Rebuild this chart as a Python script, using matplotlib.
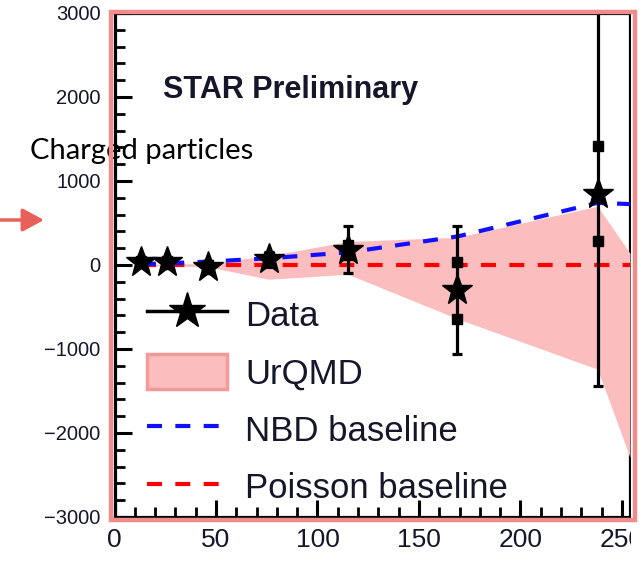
import numpy as np
import matplotlib
matplotlib.use("Agg")
import matplotlib.pyplot as plt
from matplotlib.lines import Line2D
from matplotlib.patches import Patch, Rectangle

plt.rcParams['font.family'] = ['Liberation Sans', 'DejaVu Sans']

# centrality points (x) and data values
cent = [13, 26, 46, 76, 115, 169, 238]
data_y = [32, 30, -25, 70, 180, -300, 850]
stat_err = [30, 40, 60, 90, 280, 760, 2290]
sys_err = [10, 15, 20, 30, 60, 340, 570]

# model curves, read at the same points plus the right edge
model_x = [13, 26, 46, 76, 115, 169, 238, 254]
urqmd_lo = [-10, -10, -20, -170, -110, -640, -1240, -2290]
urqmd_hi = [10, 10, 20, 110, 280, 330, 700, 140]
nbd_y = [10, 20, 40, 80, 150, 340, 740, 725]
poisson_y = [0, 0, 0, 0, 0, 0, 0, 0]

xticks = [0, 50, 100, 150, 200, 250]
yticks = [-3000, -2000, -1000, 0, 1000, 2000, 3000]

txt = '#16162a'
W, H = 641, 563
fig = plt.figure(figsize=(W / 100, H / 100), dpi=100)
ax = fig.add_axes([114.5 / W, (H - 517) / H, (630 - 114.5) / W, (517 - 13) / H])

ax.fill_between(model_x, urqmd_lo, urqmd_hi, color='#fbbdbe', lw=0, zorder=3)
ax.plot(model_x, poisson_y, color='#ff0000', lw=3, dashes=(3.6, 3.2), zorder=4)
ax.plot(model_x, nbd_y, color='#1010ff', lw=3, dashes=(3.6, 3.2), zorder=4)

ax.errorbar(cent, data_y, yerr=stat_err, fmt='none', ecolor='k',
            elinewidth=2.3, capsize=3.3, capthick=2.3, zorder=5)
sy = np.array(data_y)
se = np.array(sys_err)
ax.plot(cent, sy + se, 's', color='k', ms=7, zorder=5)
ax.plot(cent, sy - se, 's', color='k', ms=7, zorder=5)
ax.plot(cent, data_y, '*', color='k', ms=23, zorder=6)

ax.set_xlim(0, 254)
ax.set_ylim(-3000, 3000)
ax.set_xticks(xticks)
ax.set_yticks(yticks)
ax.set_xticks(np.arange(0, 255, 10), minor=True)
ax.set_yticks(np.arange(-3000, 3001, 200), minor=True)
ax.tick_params(which='both', direction='in', top=False, right=False, colors='k')
ax.tick_params(which='major', length=12, width=2.2)
ax.tick_params(which='minor', length=7, width=2)
ax.tick_params(axis='y', labelsize=14.5, pad=10, labelcolor=txt)
ax.tick_params(axis='x', labelsize=19, pad=8, labelcolor=txt)
for s in ax.spines.values():
    s.set_linewidth(2.3)

ax.text(0.094, 0.831, 'STAR Preliminary', transform=ax.transAxes,
        fontsize=22, fontweight='bold', color=txt, va='baseline', zorder=7)

handles = [
    Line2D([], [], color='k', lw=2.5, marker='*', ms=27),
    Patch(facecolor='#fbbdbe', edgecolor='#f59a9a', lw=2.5),
    Line2D([], [], color='#1010ff', lw=3, dashes=(3.6, 3.2)),
    Line2D([], [], color='#ff0000', lw=3, dashes=(3.6, 3.2)),
]
labels = ['Data', 'UrQMD', 'NBD baseline', 'Poisson baseline']
leg = ax.legend(handles, labels, loc='upper left', bbox_to_anchor=(0.063, 0.437),
                frameon=False, fontsize=25, borderpad=0, borderaxespad=0,
                handlelength=2.3, handleheight=1.15, handletextpad=0.52,
                labelspacing=0.62)
for t in leg.get_texts():
    t.set_color(txt)
leg.set_zorder(8)

fig.text(30 / W, (H - 159) / H, 'Charged particles', fontsize=21,
         family=['Lato', 'DejaVu Sans'], color='k', va='baseline')

# screenshot is cut on the right, then the red frame and arrow on top
fig.add_artist(Rectangle((631 / W, 0), 10 / W, 1, transform=fig.transFigure,
                         facecolor='white', edgecolor='none', zorder=20))
fig.add_artist(Rectangle((110.5 / W, (H - 520) / H), 524 / W, 508.5 / H,
                         transform=fig.transFigure, fill=False,
                         edgecolor='#f08c8c', lw=3.2, zorder=21))
ax.annotate('', xy=(44, H - 220), xytext=(0, H - 220), xycoords='figure pixels',
            textcoords='figure pixels', annotation_clip=False,
            arrowprops=dict(arrowstyle='-|>,head_length=0.65,head_width=0.35',
                            mutation_scale=20, color='#e8605a', lw=2.5,
                            shrinkA=0, shrinkB=0))

fig.savefig('out.png', dpi=100)
